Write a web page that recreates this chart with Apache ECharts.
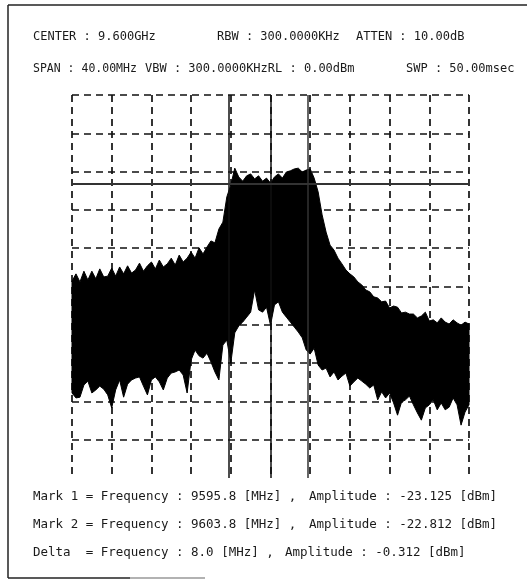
<!DOCTYPE html>
<html><head><meta charset="utf-8">
<script src="https://cdn.jsdelivr.net/npm/echarts@6/dist/echarts.min.js"></script>
<style>html,body{margin:0;padding:0;background:#fff}#c{width:527px;height:585px}</style>
</head><body><div id="c"></div>
<script>
// ---- data ----
const startMHz = 9580, stopMHz = 9620, stepMHz = 0.4;   // sweep grid
const refLevelDbm = 0, bottomDbm = -100;
// upper envelope of the trace (dBm), one value per sweep point
const upperDbm = [-48.6,-46.7,-48.8,-46.0,-48.3,-46.0,-48.0,-45.4,-47.5,-47.3,
-45.2,-47.3,-44.9,-46.7,-44.6,-46.5,-45.7,-43.9,-46.0,-44.6,
-43.6,-45.4,-43.1,-44.9,-44.1,-42.6,-44.4,-41.8,-43.6,-42.6,
-41.0,-42.6,-39.9,-41.5,-39.7,-38.1,-38.6,-35.0,-33.2,-26.6,
-23.5,-19.1,-21.4,-22.5,-21.1,-20.6,-21.9,-21.1,-22.5,-21.7,
-23.0,-21.4,-20.6,-21.7,-20.1,-19.8,-19.3,-19.1,-20.1,-19.6,
-19.3,-21.7,-25.3,-31.3,-35.8,-39.2,-40.5,-42.6,-44.1,-45.7,
-46.7,-47.5,-48.8,-49.6,-50.9,-51.4,-52.7,-53.0,-54.0,-53.8,
-55.6,-55.1,-55.4,-56.9,-56.7,-57.2,-57.2,-58.2,-57.7,-56.7,
-59.0,-58.7,-59.5,-58.2,-59.3,-59.8,-58.7,-59.5,-60.1,-59.3,
-59.8];
// lower envelope of the trace (dBm)
const lowerDbm = [-77.8,-79.1,-78.9,-75.7,-74.7,-77.8,-77.0,-76.0,-76.8,-78.3,
-81.7,-77.0,-74.4,-78.9,-75.5,-74.4,-73.9,-73.6,-76.0,-78.3,
-74.4,-73.6,-74.9,-77.0,-73.9,-72.6,-72.3,-71.8,-73.1,-77.8,
-69.2,-66.6,-68.1,-68.7,-67.4,-69.7,-72.3,-74.4,-65.3,-64.0,
-70.0,-62.1,-60.3,-59.3,-58.0,-56.7,-50.9,-56.1,-56.7,-55.4,
-60.1,-54.8,-54.0,-56.7,-58.0,-59.3,-60.6,-61.9,-63.4,-66.6,
-67.6,-66.1,-70.5,-71.8,-71.3,-73.6,-72.3,-74.4,-73.4,-72.6,
-76.0,-74.9,-73.9,-74.7,-75.5,-76.5,-75.7,-79.6,-77.5,-79.1,
-77.8,-80.4,-83.6,-80.2,-79.6,-78.6,-80.9,-83.0,-84.9,-81.7,
-80.9,-79.6,-82.2,-80.4,-82.2,-81.5,-79.1,-80.9,-86.2,-82.8,
-80.9];
const markerFreqs = [9595.8, 9603.8];
const centerFreq = 9600;
const markerLevelDbm = -23.125;

// ---- texts ----
const headerRow1 = ["CENTER : 9.600GHz", "RBW : 300.0000KHz", "ATTEN : 10.00dB"];
const headerRow2 = ["SPAN : 40.00MHz", "VBW : 300.0000KHzRL : 0.00dBm", "SWP : 50.00msec"];
const footerLeft = ["Mark 1 = Frequency : 9595.8 [MHz] ,", "Mark 2 = Frequency : 9603.8 [MHz] ,", "Delta  = Frequency : 8.0 [MHz] ,"];
const footerRight = ["Amplitude : -23.125 [dBm]", "Amplitude : -22.812 [dBm]", "Amplitude : -0.312 [dBm]"];

// ---- build ----
const freqs = upperDbm.map((_, i) => +(startMHz + i * stepMHz).toFixed(1));
const tracePts = freqs.map((f, i) => [f, lowerDbm[i], upperDbm[i]]);

const FONT = '"DejaVu Sans Mono", monospace';
const txt = (s, x, y, size) => ({type:'text', left:x, top:y, style:{text:s, fill:'#1a1a1a', font:size + 'px ' + FONT}});
const graphics = [];
[33, 217, 356].forEach((x, i) => graphics.push(txt(headerRow1[i], x, 31, 12)));
graphics.push(txt(headerRow2[0], 33, 63, 11.5));
graphics.push(txt(headerRow2[1], 145, 63, 12));
graphics.push(txt(headerRow2[2], 406, 63, 12));
[490, 518, 546].forEach((y, i) => {
  graphics.push(txt(footerLeft[i], 33, y, 12.5));
  graphics.push(txt(footerRight[i], i === 2 ? 285 : 309, y, 12.5));
});
const ln = (x1, y1, x2, y2, c, w) => ({type:'line', shape:{x1, y1, x2, y2}, style:{stroke:c, lineWidth:w}, silent:true});
graphics.push(ln(8, 5, 527, 5, '#222', 1.5));
graphics.push(ln(8, 5, 8, 578, '#222', 1.5));
graphics.push(ln(8, 578, 130, 578, '#222', 1.5));
graphics.push(ln(130, 578, 205, 578, '#999', 1.5));

const dash = {color:'#111', width:1.7, type:[7, 5]};
const chart = echarts.init(document.getElementById('c'), null, {renderer:'canvas'});
chart.setOption({
  animation:false,
  backgroundColor:'#fff',
  grid:{left:72, top:95, width:397, height:383},
  xAxis:{type:'value', min:startMHz, max:stopMHz, interval:4,
    axisLine:{show:false}, axisTick:{show:false}, axisLabel:{show:false},
    splitLine:{show:true, lineStyle:dash}},
  yAxis:{type:'value', min:bottomDbm, max:refLevelDbm, interval:10,
    axisLine:{show:false}, axisTick:{show:false}, axisLabel:{show:false},
    splitLine:{show:true, showMinLine:false, lineStyle:dash}},
  series:[
    {type:'custom', name:'trace', data:tracePts, encode:{x:0, y:[1, 2]}, z:3,
     renderItem:(params, api) => {
       if (params.dataIndex !== 0) return null;
       const top = tracePts.map(p => api.coord([p[0], p[2]]));
       const bot = tracePts.slice().reverse().map(p => api.coord([p[0], p[1]]));
       return {type:'polygon', shape:{points:top.concat(bot)},
               style:{fill:'#000', stroke:'#000', lineWidth:1}};
     }},
    {type:'line', name:'markers', data:[], z:5,
     markLine:{silent:true, symbol:'none', label:{show:false},
       data:[
         {xAxis:markerFreqs[0], lineStyle:{color:'#111', width:1.5, type:'solid'}},
         {xAxis:centerFreq, lineStyle:{color:'#111', width:1.5, type:'solid'}},
         {xAxis:markerFreqs[1], lineStyle:{color:'#333', width:1.5, type:'solid'}},
         {yAxis:markerLevelDbm, lineStyle:{color:'#333', width:2, type:'solid'}}
       ]}}
  ],
  graphic:graphics
});
</script></body></html>
